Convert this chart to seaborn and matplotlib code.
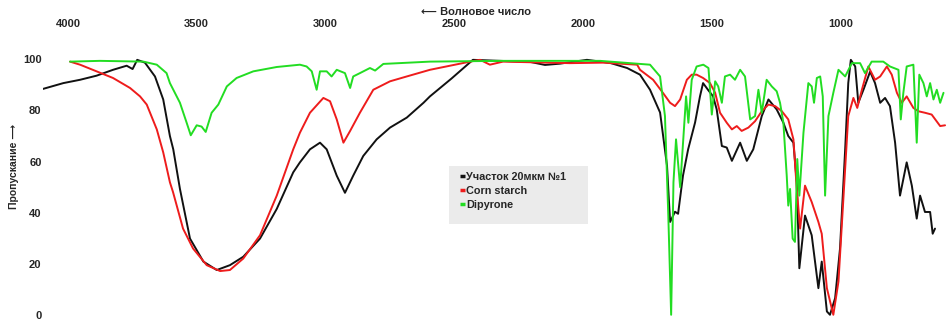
import numpy as np
import pandas as pd
import matplotlib
matplotlib.use("Agg")
import matplotlib.pyplot as plt
from matplotlib.patches import Rectangle
from matplotlib.lines import Line2D
import seaborn as sns

# ---------------- data ----------------
series_names = ["Участок 20мкм №1", "Corn starch", "Dipyrone"]
series_colors = ["#111111", "#ee1c1c", "#22dd22"]

black_wn = [4098, 4018, 3953, 3889, 3825, 3772, 3749, 3731, 3701, 3662, 3630, 3604, 3591,
            3565, 3526, 3474, 3422, 3371, 3319, 3254, 3189, 3125, 3099, 3060, 3021, 2995,
            2956, 2924, 2892, 2853, 2801, 2749, 2684, 2619, 2594, 2510, 2427, 2322, 2205,
            2147, 2089, 1984, 1894, 1828, 1778, 1739, 1700, 1673, 1661, 1642, 1630, 1611,
            1591, 1564, 1545, 1533, 1514, 1494, 1480, 1460, 1441, 1421, 1389, 1363, 1338,
            1305, 1279, 1247, 1221, 1202, 1182, 1169, 1159, 1137, 1111, 1085, 1072, 1052,
            1040, 1020, 1001, 981, 969, 959, 942, 930, 910, 884, 865, 845, 826, 807, 787,
            768, 742, 722, 703, 690, 671, 651, 641, 632]
black_t = [88.4, 90.7, 92.0, 93.6, 95.9, 97.5, 96.2, 99.8, 98.7, 93.3, 84.3, 70.0, 64.8,
           49.3, 29.9, 20.9, 17.6, 19.5, 22.8, 29.9, 41.5, 55.8, 59.7, 64.8, 67.4, 64.8,
           54.5, 47.8, 54.5, 62.2, 68.7, 73.3, 77.2, 83.0, 85.5, 92.5, 99.8, 99.4, 99.0,
           97.8, 98.3, 99.8, 98.6, 96.6, 94.0, 88.1, 79.2, 58.4, 36.4, 40.4, 39.6, 54.5,
           64.8, 75.3, 85.5, 90.7, 88.1, 85.5, 80.4, 66.1, 65.5, 60.3, 67.4, 60.3, 64.8,
           77.8, 84.3, 80.4, 75.2, 70.0, 67.4, 51.9, 18.3, 38.9, 31.2, 10.5, 20.9, 1.4,
           0.1, 6.6, 26.0, 64.8, 90.7, 99.8, 97.2, 83.0, 88.1, 95.2, 90.7, 83.0, 84.9, 81.7, 67.4,
           46.7, 59.7, 50.6, 37.7, 46.7, 40.3, 40.3, 31.8, 33.8]

red_wn = [3992, 3953, 3889, 3825, 3759, 3720, 3694, 3655, 3630, 3604, 3592, 3553, 3514,
          3461, 3409, 3371, 3319, 3254, 3189, 3125, 3099, 3060, 3008, 2982, 2956, 2930,
          2904, 2866, 2814, 2749, 2684, 2594, 2438, 2399, 2361, 2310, 2050, 1922, 1789,
          1778, 1727, 1689, 1661, 1642, 1622, 1596, 1577, 1558, 1533, 1506, 1486, 1467,
          1441, 1421, 1402, 1383, 1357, 1331, 1305, 1279, 1253, 1227, 1202, 1182, 1169,
          1156, 1137, 1111, 1085, 1072, 1052, 1027, 1007, 988, 969, 949, 934, 916, 891,
          865, 845, 819, 800, 780, 761, 742, 716, 697, 671, 645, 612, 593]
red_t = [99.1, 97.9, 95.3, 92.7, 88.8, 85.5, 82.3, 72.6, 63.6, 51.9, 48.1, 33.8, 26.0,
         19.5, 17.2, 17.6, 22.1, 31.2, 46.7, 64.8, 71.3, 79.1, 84.9, 83.6, 76.5, 67.4,
         72.0, 79.1, 88.1, 91.4, 93.3, 95.9, 99.1, 99.8, 97.9, 99.1, 98.5, 98.7, 97.9,
         95.9, 92.0, 86.9, 83.0, 81.7, 84.3, 92.0, 94.0, 94.0, 92.7, 90.7, 86.9, 79.1,
         75.2, 72.6, 73.9, 72.0, 73.3, 75.8, 79.7, 82.3, 81.7, 79.7, 76.5, 68.7, 49.3,
         33.8, 50.6, 44.2, 36.4, 31.8, 10.5, 0.1, 13.1, 45.4, 77.8, 84.9, 81.0, 88.1, 97.2,
         92.0, 93.3, 97.2, 94.0, 86.9, 83.0, 85.5, 81.0, 79.7, 79.1, 78.4, 73.9, 74.2]

green_wn = [3992, 3876, 3707, 3655, 3617, 3604, 3565, 3539, 3523, 3500, 3481, 3465, 3442,
            3416, 3383, 3345, 3280, 3189, 3099, 3073, 3053, 3034, 3021, 2995, 2976, 2956,
            2924, 2904, 2892, 2866, 2827, 2807, 2775, 2594, 2322, 1933, 1739, 1700, 1681,
            1668, 1657, 1648, 1638, 1622, 1599, 1590, 1577, 1558, 1532, 1512, 1499, 1486,
            1474, 1460, 1448, 1428, 1409, 1389, 1370, 1350, 1331, 1318, 1305, 1286, 1266,
            1247, 1234, 1221, 1208, 1202, 1195, 1185, 1176, 1167, 1159, 1143, 1124, 1111,
            1102, 1091, 1078, 1068, 1059, 1046, 1027, 1007, 981, 955, 923, 904, 878, 833,
            807, 774, 765, 755, 742, 716, 703, 693, 677, 664, 651, 638, 625, 612, 599]
green_t = [99.1, 99.4, 99.1, 97.9, 94.6, 90.7, 83.0, 75.2, 70.3, 74.2, 73.7, 71.6, 79.1,
           82.3, 89.4, 92.7, 95.3, 97.0, 97.9, 97.2, 95.3, 88.1, 95.3, 95.3, 93.3, 95.9,
           94.6, 88.8, 93.3, 94.6, 96.6, 95.6, 98.2, 99.1, 99.4, 99.4, 97.9, 93.3, 77.8,
           38.9, 0.1, 51.9, 68.7, 50.0, 85.5, 75.2, 92.0, 97.2, 97.9, 96.6, 78.4, 91.4,
           89.4, 83.0, 93.3, 94.0, 92.0, 95.9, 93.3, 76.5, 77.8, 88.1, 79.1, 92.0, 89.4,
           87.5, 83.0, 75.2, 54.5, 42.8, 49.3, 29.9, 28.6, 61.0, 46.7, 71.3, 90.7, 89.4,
           83.0, 92.7, 93.3, 85.5, 46.7, 77.8, 86.9, 95.9, 93.3, 98.5, 98.5, 94.6, 99.1, 99.1,
           97.2, 95.9, 76.5, 86.9, 97.2, 97.9, 67.4, 94.0, 90.7, 85.5, 90.7, 84.3, 88.1, 83.0, 86.9]

x_ticks = [4000, 3500, 3000, 2500, 2000, 1500, 1000]
y_ticks = [0, 20, 40, 60, 80, 100]
x_title = "⟵ Волновое число"
y_title = "Пропускание ⟶"

# ---------------- figure ----------------
sns.set_theme(style="white")
plt.rcParams['font.family'] = ['Liberation Sans', 'DejaVu Sans']
plt.rcParams['font.weight'] = 'bold'

W, H = 952, 321
fig = plt.figure(figsize=(W / 100, H / 100), dpi=100)
ax = fig.add_axes([43 / W, 2 / H, (W - 43) / W, (H - 47) / H])

frames = []
for name, wn, t in zip(series_names, [black_wn, red_wn, green_wn], [black_t, red_t, green_t]):
    frames.append(pd.DataFrame({"wn": wn, "T": t, "series": name}))
df = pd.concat(frames, ignore_index=True)

sns.lineplot(data=df, x="wn", y="T", hue="series", hue_order=series_names,
             palette=dict(zip(series_names, series_colors)), sort=False,
             estimator=None, linewidth=1.4, ax=ax, legend=False)

ax.set_xlim(4097, 566)
ax.set_ylim(-1.55, 105.6)
ax.xaxis.tick_top()
ax.set_xticks(x_ticks)
ax.set_yticks(y_ticks)
ax.tick_params(axis='x', length=0, pad=11.5, labelsize=8)
ax.tick_params(axis='y', length=0, pad=1, labelsize=8)
for lab in ax.get_xticklabels() + ax.get_yticklabels():
    lab.set_fontweight('bold')
for s in ax.spines.values():
    s.set_visible(False)
ax.grid(False)
ax.set_xlabel("")
ax.set_ylabel("")

fig.text(476 / W, 1 - 12 / H, x_title, ha='center', va='center', fontsize=8,
         fontweight='bold', family=['Liberation Sans', 'DejaVu Sans'])
fig.text(14 / W, 1 - 166 / H, y_title, rotation=90, ha='center', va='center',
         fontsize=7.5, fontweight='bold', family=['Liberation Sans', 'DejaVu Sans'])

# legend box
ax.add_patch(Rectangle((449 / W, 1 - 224 / H), 139 / W, 58 / H, transform=fig.transFigure,
                       facecolor='#ebebeb', edgecolor='none', zorder=3, clip_on=False))
handles = [Line2D([0], [0], color=c, lw=2.5, solid_capstyle='butt') for c in series_colors]
leg = ax.legend(handles, series_names, loc='upper left',
                bbox_to_anchor=(460 / W, 1 - 172 / H), bbox_transform=fig.transFigure,
                frameon=False, handlelength=0.45, handletextpad=0.1, labelspacing=0.38,
                borderpad=0, borderaxespad=0, prop={'weight': 'bold', 'size': 7.8})
leg.set_zorder(4)

fig.savefig("out.png", dpi=100)
